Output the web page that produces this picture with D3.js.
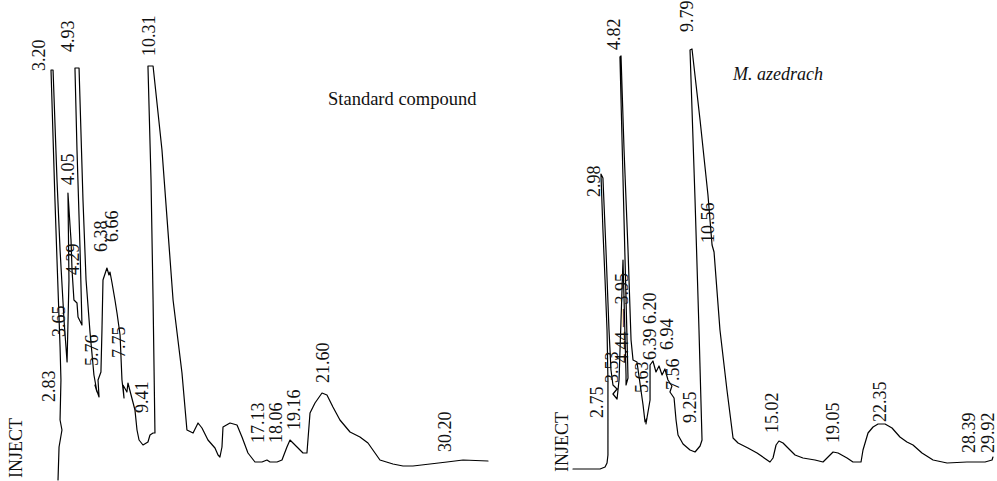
<!DOCTYPE html>
<html><head><meta charset="utf-8">
<script src="https://cdn.jsdelivr.net/npm/d3@7"></script>
<style>
html,body{margin:0;padding:0;background:#fff;}
svg{display:block;}
text{font-family:"Liberation Serif","DejaVu Serif",serif;fill:#111;}
</style></head><body>
<svg id="chart" width="997" height="481"></svg>
<script>
// ---------- Data (time in min, detector response in arbitrary units) ----------
// Standard compound chromatogram trace, read from the recorder strip
const standardTrace = [
  [3.70,0],[3.77,8.25],[3.97,12.5],[3.84,15],[3.90,25],[3.84,33.25],[3.63,55],[3.49,70],
  [3.22,102.5],[3.36,102.5],[3.63,75],[3.84,57.5],[4.11,40],[4.32,29.5],
  [4.45,50],[4.38,71.75],[4.52,63.75],[4.59,60],[4.66,52.5],[4.79,45],[5.00,44.25],[5.07,40.75],[5.34,38.75],
  [5.21,57.5],[5.00,82.5],[4.86,103],[5.14,103],[5.41,70],[5.62,50],[5.89,37],
  [6.16,26.25],[6.37,22],[6.23,23.75],[6.51,20.75],[6.44,25],[6.64,27],[6.71,37.5],[6.78,50],
  [7.05,53],[7.19,51.25],[7.26,52],[7.40,49.25],[7.60,45],[7.74,41.75],[7.95,36.25],[8.08,25],
  [8.22,20.5],[8.15,23.75],[8.42,22],[8.49,24.25],[8.97,17.5],[9.11,12.5],[9.25,10],[9.52,8.75],
  [9.86,9.5],[10.00,11.25],[10.21,11.75],[10.34,11.75],[10.21,45],[10.07,75],[9.86,103.5],[10.21,103.5],
  [10.82,82.5],[11.58,45],[12.19,26.75],[12.53,12.5],[12.95,11.75],[13.29,14.25],[13.56,13],[13.97,10],
  [14.45,8],[14.66,6.25],[14.79,5.75],[14.93,8.25],[15.00,13.25],[15.48,14.25],[15.96,13.75],[16.30,10.75],
  [16.71,6.75],[17.19,4.5],[17.67,4.5],[18.01,5],[18.22,4.5],[18.70,4.5],[19.04,5],[19.38,8.25],
  [19.59,10],[20.07,8.25],[20.48,6.75],[20.75,6.75],[20.96,16.75],[21.30,19.25],[21.78,21.75],[22.12,21.25],
  [22.53,18.25],[23.01,15],[23.70,12],[24.38,10.75],[24.93,9.25],[25.75,5],[26.64,4],[27.33,3.5],
  [28.01,3.5],[29.18,4],[30.34,4.5],[31.44,5],[33.15,4.75]
];
// Peak labels of the standard: [text, time, response at label foot]
const standardLabels = [
  ["3.20",2.40,102.25],["4.93",4.38,107],["10.31",9.93,106],["4.05",4.38,73.75],["4.29",4.73,51.25],
  ["6.38",6.64,57],["6.66",7.40,59.5],["3.65",3.77,35.75],["2.83",3.08,19.5],["5.76",6.03,28.5],
  ["7.75",7.88,30.5],["9.41",9.45,16.75],["17.13",17.40,9.25],["18.06",18.63,9.25],["19.16",19.86,12.5],
  ["21.60",21.85,24.25],["30.20",30.21,7],["INJECT",0.82,0.5]
];
// M. azedrach extract chromatogram trace
const extractTrace = [
  [2.17,0],[3.95,0],[4.28,0.5],[4.41,1.5],[4.47,3.5],[4.47,12.25],[4.47,22.25],[4.41,34.75],
  [4.28,47.25],[4.14,59.75],[4.01,73.75],[4.14,72.75],[4.34,54.75],[4.54,34.75],[4.67,24.75],[4.80,21],
  [5.07,20],[4.80,18.75],[5.07,17.5],[5.20,22.25],[5.46,52.25],[5.53,42.25],[5.66,23.5],[5.66,21],
  [5.79,22.75],[5.26,103],[5.33,103.25],[5.53,79.75],[5.79,54.75],[5.99,32.25],[6.12,27.25],[6.38,26.75],
  [6.78,16],[6.91,11.75],[7.04,12.75],[6.97,11.25],[7.24,17.25],[7.24,26],[7.43,27],[7.63,24.25],
  [7.83,25.75],[8.03,23.5],[8.22,25],[8.42,22.25],[8.68,20.75],[8.55,19.25],[8.82,17.75],[8.95,12.25],
  [9.08,8.5],[9.41,6.25],[9.87,4.75],[10.20,4.25],[10.53,5.75],[10.66,7.25],[10.46,34.75],[10.20,67.25],
  [9.87,104.75],[10.00,105],[10.53,87.25],[11.05,68.5],[11.32,56],[11.45,54.25],[11.84,34.75],[12.30,19.75],
  [12.70,7.75],[13.03,6.5],[13.68,5.25],[14.28,4],[15.13,1.75],[15.33,2.75],[15.53,6],[15.72,7],
  [15.99,6.5],[16.25,5.5],[16.78,3.5],[17.30,2.75],[18.09,2.25],[18.62,1.75],[18.95,3],[19.28,4.25],
  [19.61,4],[20.20,2.75],[20.59,1.75],[21.12,1.75],[21.25,4.75],[21.58,9],[21.91,10.5],[22.24,11.25],
  [22.70,11.25],[23.16,10.25],[23.68,8],[24.14,6.75],[24.54,6],[25.13,4],[25.86,2.25],[26.78,1.5],
  [28.09,1.75],[29.28,1.75],[29.74,2.25],[29.80,3]
];
const extractLabels = [
  ["4.82",4.87,104.75],["9.79",9.67,109.25],["2.98",3.55,68],["10.56",11.05,56.5],
  ["4.44 — 3.95",5.39,26.5],["6.39 6.20",7.24,27.25],["6.94",8.36,29.75],["3.53",4.74,21.5],
  ["5.63",6.71,19],["7.56",8.75,19.75],["9.25",9.87,11.5],["2.75",3.75,12.75],["15.02",15.26,9],
  ["19.05",19.28,6.5],["22.35",22.37,11.75],["28.39",28.22,4],["29.92",29.45,4],["INJECT",1.45,-0.75]
];
const panelTitles = ["Standard compound", "M. azedrach"];
const timeDomain = [0, 30];
const responseDomain = [0, 100];

// ---------- Drawing ----------
const svg = d3.select("#chart");
svg.append("rect").attr("width", 997).attr("height", 481).attr("fill", "#fff");

function drawPanel(trace, labels, title, xRange, yRange, titlePos, italic) {
  const x = d3.scaleLinear().domain(timeDomain).range(xRange);
  const y = d3.scaleLinear().domain(responseDomain).range(yRange);
  const g = svg.append("g");
  const line = d3.line().x(d => x(d[0])).y(d => y(d[1]));
  g.append("path").datum(trace).attr("d", line)
    .attr("fill", "none").attr("stroke", "#000").attr("stroke-width", 1.2)
    .attr("stroke-linejoin", "round").attr("stroke-linecap", "round");
  g.selectAll("text.lbl").data(labels).join("text")
    .attr("class", "lbl")
    .attr("transform", d => `translate(${x(d[1])},${y(d[2])}) rotate(-90)`)
    .attr("dy", "0.35em")
    .attr("text-anchor", "start")
    .attr("font-size", 18)
    .text(d => d[0]);
  g.append("text")
    .attr("x", titlePos[0]).attr("y", titlePos[1])
    .attr("font-size", italic ? 18 : 18.5)
    .attr("font-style", italic ? "italic" : "normal")
    .text(title);
}

drawPanel(standardTrace, standardLabels, panelTitles[0], [4, 442], [480, 80], [328, 105], false);
drawPanel(extractTrace, extractLabels, panelTitles[1], [540, 996], [469, 69], [733, 80], true);
</script>
</body></html>
